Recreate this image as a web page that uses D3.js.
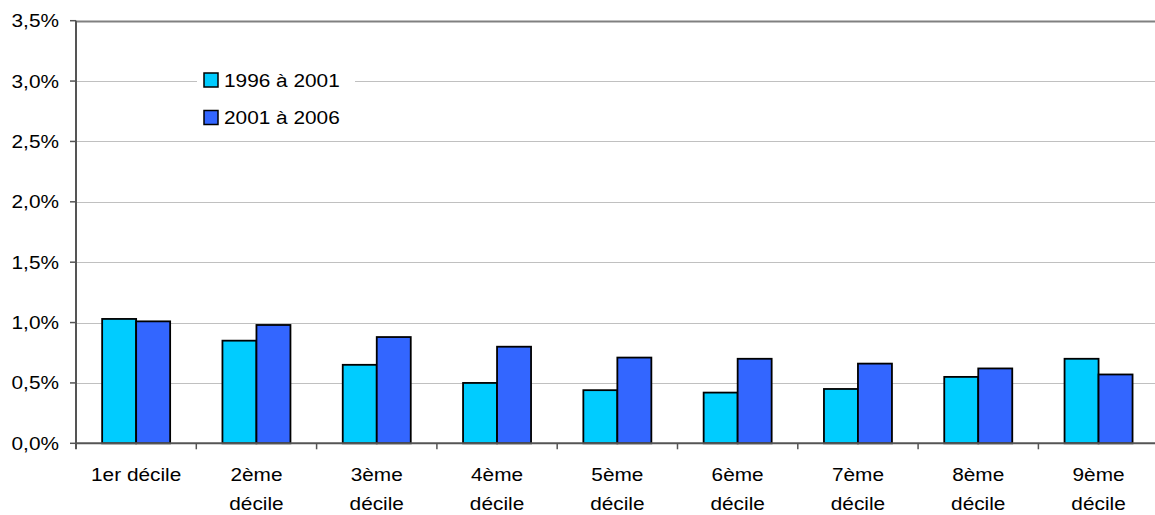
<!DOCTYPE html>
<html>
<head>
<meta charset="utf-8">
<script src="https://cdn.jsdelivr.net/npm/d3@7"></script>
<style>
  body { margin: 0; background: #fff; }
  text { font-family: Arial, "Liberation Sans", sans-serif; font-size: 18.6px; fill: #000; }
</style>
</head>
<body>
<div id="chart"></div>
<script>
// Data
const categories = ['1er décile', '2ème décile', '3ème décile', '4ème décile', '5ème décile',
                    '6ème décile', '7ème décile', '8ème décile', '9ème décile'];
const series = ['1996 à 2001', '2001 à 2006'];
const values1996 = [0.0103, 0.0085, 0.0065, 0.0050, 0.0044, 0.0042, 0.0045, 0.0055, 0.0070];
const values2001 = [0.0101, 0.0098, 0.0088, 0.0080, 0.0071, 0.0070, 0.0066, 0.0062, 0.0057];
const yTicks = [0, 0.005, 0.01, 0.015, 0.02, 0.025, 0.03, 0.035];
const colors = ['#00CCFF', '#3366FF'];

const width = 1155, height = 515;
const sx = 1.12; // horizontal stretch of the text in the reference

const svg = d3.select('#chart').append('svg')
    .attr('width', width)
    .attr('height', height);

const x = d3.scaleBand()
    .domain(categories)
    .range([76, 76 + 9 * 120.3]);

const y = d3.scaleLinear()
    .domain([0, 0.035])
    .range([443.3, 20.7]);

const barW = 34;
const x1 = d3.scaleBand()
    .domain(series)
    .range([x.bandwidth() / 2 - barW, x.bandwidth() / 2 + barW]);

const fmt = d => d3.format('.1f')(d * 100).replace('.', ',') + '%';

// Gridlines
svg.append('g')
    .selectAll('line')
    .data(yTicks.filter(d => d > 0))
    .enter()
    .append('line')
    .attr('x1', x.range()[0])
    .attr('x2', x.range()[1])
    .attr('y1', d => Math.round(y(d)) + 0.5)
    .attr('y2', d => Math.round(y(d)) + 0.5)
    .attr('stroke', d => d === 0.035 ? '#808080' : '#c0c0c0')
    .attr('stroke-width', d => d === 0.035 ? 2 : 1);

// Legend box (white, hides the gridline behind)
const legend = svg.append('g');
legend.append('rect')
    .attr('x', 197).attr('y', 62)
    .attr('width', 158).attr('height', 74)
    .attr('fill', '#fff');

series.forEach((s, i) => {
    const yy = 73 + i * 37.5;
    legend.append('rect')
        .attr('x', 204).attr('y', yy)
        .attr('width', 14).attr('height', 14)
        .attr('fill', colors[i])
        .attr('stroke', '#000')
        .attr('stroke-width', 1.5);
    legend.append('text')
        .attr('transform', `translate(224,${yy + 13.5}) scale(${sx},1)`)
        .text(s);
});

// Bars
const groups = svg.append('g')
    .selectAll('g')
    .data(categories)
    .enter()
    .append('g')
    .attr('transform', d => `translate(${x(d)},0)`);

groups.selectAll('rect')
    .data((d, i) => [
        { s: series[0], v: values1996[i], c: colors[0] },
        { s: series[1], v: values2001[i], c: colors[1] }
    ])
    .enter()
    .append('rect')
    .attr('x', d => x1(d.s))
    .attr('y', d => y(d.v))
    .attr('width', x1.bandwidth())
    .attr('height', d => y(0) - y(d.v))
    .attr('fill', d => d.c)
    .attr('stroke', '#000')
    .attr('stroke-width', 1.8);

// Y axis
const y0 = y(0);
svg.append('line')
    .attr('x1', 76).attr('x2', 76)
    .attr('y1', y.range()[1]).attr('y2', y0 + 6)
    .attr('stroke', '#555').attr('stroke-width', 2);

svg.append('g')
    .selectAll('line')
    .data(yTicks)
    .enter()
    .append('line')
    .attr('x1', 70).attr('x2', 76)
    .attr('y1', d => y(d)).attr('y2', d => y(d))
    .attr('stroke', '#555').attr('stroke-width', 1.5);

svg.append('g')
    .selectAll('text')
    .data(yTicks)
    .enter()
    .append('text')
    .attr('transform', d => `translate(59,${y(d) + 6.5}) scale(${sx},1)`)
    .style('text-anchor', 'end')
    .text(fmt);

// X axis
svg.append('line')
    .attr('x1', 76).attr('x2', x.range()[1])
    .attr('y1', y0).attr('y2', y0)
    .attr('stroke', '#555').attr('stroke-width', 2);

svg.append('g')
    .selectAll('line')
    .data(categories)
    .enter()
    .append('line')
    .attr('x1', d => x(d) + x.bandwidth()).attr('x2', d => x(d) + x.bandwidth())
    .attr('y1', y0).attr('y2', y0 + 6)
    .attr('stroke', '#555').attr('stroke-width', 1.5);

// Category labels (wrapped like the reference)
svg.append('g')
    .selectAll('text')
    .data(categories)
    .enter()
    .append('text')
    .attr('transform', d => `translate(${x(d) + x.bandwidth() / 2},0) scale(${sx},1)`)
    .style('text-anchor', 'middle')
    .each(function(d, i) {
        const lines = i === 0 ? [d] : d.split(' ');
        const t = d3.select(this);
        lines.forEach((w, j) => {
            t.append('tspan')
                .attr('x', 0)
                .attr('y', 481.5 + j * 28.5)
                .text(w);
        });
    });
</script>
</body>
</html>
